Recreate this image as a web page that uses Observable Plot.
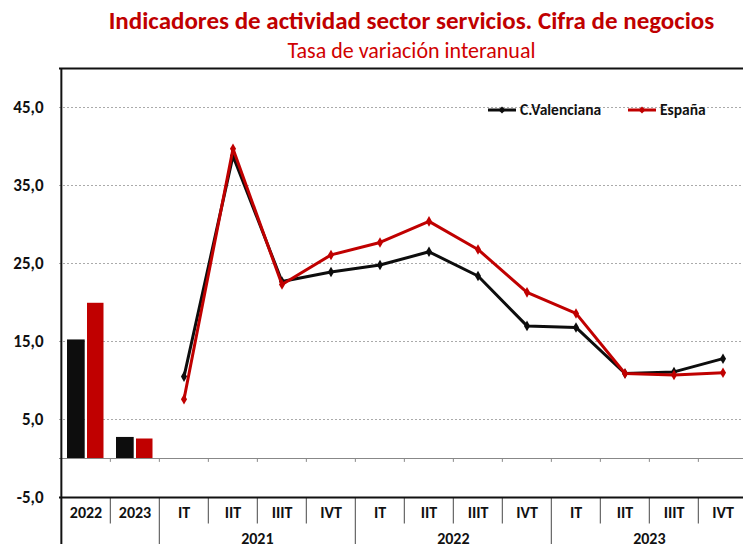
<!DOCTYPE html>
<html><head><meta charset="utf-8">
<script src="https://cdn.jsdelivr.net/npm/d3@7"></script>
<script src="https://cdn.jsdelivr.net/npm/@observablehq/plot@0.6"></script>
<style>
body{margin:0;background:#fff;overflow:hidden;}
#wrap{position:relative;width:743px;height:544px;overflow:hidden;font-family:Carlito,Calibri,Lato,sans-serif;}
#title{position:absolute;top:5px;left:40px;width:743px;text-align:center;font-weight:bold;font-size:25px;color:#C00000;white-space:nowrap;}
#subtitle{position:absolute;top:37px;left:40px;width:743px;text-align:center;font-size:22px;color:#D00000;white-space:nowrap;}
#chart{position:absolute;top:64px;left:0;width:743px;height:480px;overflow:hidden;}
#chart svg{max-width:none !important;overflow:hidden !important;}
#chart svg text{font-weight:bold;}
#chart svg g[aria-label="y-axis tick label"] text{font-size:17px;}
#chart svg g[aria-label="x-axis tick label"] text{font-size:16px;}
#chart svg g[aria-label="text"] text{font-size:16px;}
#legend{position:absolute;top:100px;left:488px;font-weight:bold;font-size:15.5px;color:#111;white-space:nowrap;}
#legend span.item{position:absolute;top:0;display:flex;align-items:center;}
#legend svg{margin-right:4px;}
</style></head>
<body>
<div id="wrap">
  <div id="title">Indicadores de actividad sector servicios. Cifra de negocios</div>
  <div id="subtitle">Tasa de variación interanual</div>
  <div id="chart"></div>
  <div id="legend"></div>
</div>
<script>
const categories = ["2022","2023","IT 2021","IIT 2021","IIIT 2021","IVT 2021","IT 2022","IIT 2022","IIIT 2022","IVT 2022","IT 2023","IIT 2023","IIIT 2023","IVT 2023"];
const tickLabels = ["2022","2023","IT","IIT","IIIT","IVT","IT","IIT","IIIT","IVT","IT","IIT","IIIT","IVT"];
const annualCats = ["2022","2023"];
const annualValencia = [15.2, 2.7];
const annualEspana = [19.9, 2.5];
const quarterCats = ["IT 2021","IIT 2021","IIIT 2021","IVT 2021","IT 2022","IIT 2022","IIIT 2022","IVT 2022","IT 2023","IIT 2023","IIIT 2023","IVT 2023"];
const quarterValencia = [10.5, 38.8, 22.7, 23.9, 24.8, 26.5, 23.4, 17.0, 16.8, 10.9, 11.1, 12.8];
const quarterEspana = [7.6, 39.7, 22.3, 26.1, 27.7, 30.4, 26.8, 21.3, 18.6, 10.9, 10.7, 11.0];
const yearGroups = ["2021","2022","2023"];
const yearGroupCenters = ["IIIT 2021","IIIT 2022","IIIT 2023"];
const yTicks = [-5, 5, 15, 25, 35, 45];
const seriesNames = ["C.Valenciana","España"];
const seriesColors = ["#0d0d0d","#C00000"];

const FONT = 'Carlito,Calibri,Lato,sans-serif';
const labelOf = new Map(categories.map((c,i)=>[c,tickLabels[i]]));
const annualRows = annualCats.map((c,i)=>({cat:c, v:annualValencia[i], e:annualEspana[i]}));
const quarterRows = quarterCats.map((c,i)=>({cat:c, v:quarterValencia[i], e:quarterEspana[i]}));
const groupStarts = ["IT 2021","IT 2022","IT 2023"];
const shortSeps = categories.slice(1).filter(c => !groupStarts.includes(c));
const allInner = categories.slice(1);

const W = 743, H = 480, ML = 59, XR = 749;
const bw = (XR - ML) / categories.length;
const fmt = d => d.toFixed(1).replace(".", ",");

const chart = Plot.plot({
  width: W, height: H,
  marginLeft: ML, marginRight: 0, marginTop: 4, marginBottom: 47,
  style: {fontFamily: FONT, fontSize: "14px", color: "#111", background: "transparent", overflow: "hidden", maxWidth: "none"},
  x: {type: "band", domain: categories, padding: 0, range: [ML, XR]},
  y: {domain: [-5, 50]},
  marks: [
    Plot.gridY([5,15,25,35,45], {stroke: "#aaa", strokeOpacity: 1, strokeDasharray: "2,2"}),
    Plot.ruleY([0], {stroke: "#888", strokeWidth: 1}),
    Plot.ruleX(allInner, {x: d => d, dx: -bw/2, y1: 0, y2: -0.5, stroke: "#888"}),
    Plot.barY(annualRows, {x: "cat", y: "v", fill: seriesColors[0], insetLeft: 6, insetRight: 25.3}),
    Plot.barY(annualRows, {x: "cat", y: "e", fill: seriesColors[1], insetLeft: 26, insetRight: 6.5}),
    Plot.line(quarterRows, {x: "cat", y: "v", stroke: seriesColors[0], strokeWidth: 3}),
    Plot.dot(quarterRows, {x: "cat", y: "v", fill: seriesColors[0], symbol: "diamond", r: 3.2}),
    Plot.line(quarterRows, {x: "cat", y: "e", stroke: seriesColors[1], strokeWidth: 3}),
    Plot.dot(quarterRows, {x: "cat", y: "e", fill: seriesColors[1], symbol: "diamond", r: 3.2}),
    Plot.axisY(yTicks, {tickSize: 0, tickPadding: 16, tickFormat: fmt, label: null}),
    Plot.axisX({tickSize: 0, tickPadding: 9, tickFormat: d => labelOf.get(d), label: null}),
    Plot.ruleX(shortSeps, {x: d => d, dx: -bw/2, y1: -5, y2: -8.4, stroke: "#666", strokeWidth: 1.2}),
    Plot.ruleX(groupStarts, {x: d => d, dx: -bw/2, y1: -5, y2: -12, stroke: "#666", strokeWidth: 1.2}),
    Plot.text(yearGroups, {x: (d,i) => yearGroupCenters[i], dx: -bw/2, y: -10.3, text: d => d}),
    Plot.ruleY([50, -5], {stroke: "#111", strokeWidth: 2}),
    Plot.ruleX(["2022"], {x: d => d, dx: -bw/2, y1: -12, y2: 50, stroke: "#111", strokeWidth: 2})
  ]
});
document.getElementById("chart").appendChild(chart);

const legend = document.getElementById("legend");
const offsets = [0, 140];
seriesNames.forEach((name, i) => {
  const item = document.createElement("span");
  item.className = "item";
  item.style.left = offsets[i] + "px";
  item.innerHTML = `<svg width="28" height="10"><line x1="0" y1="5" x2="28" y2="5" stroke="${seriesColors[i]}" stroke-width="3"/><path d="M14,1.5L17.5,5L14,8.5L10.5,5Z" fill="${seriesColors[i]}"/></svg>${name}`;
  legend.appendChild(item);
});
</script>
</body></html>
